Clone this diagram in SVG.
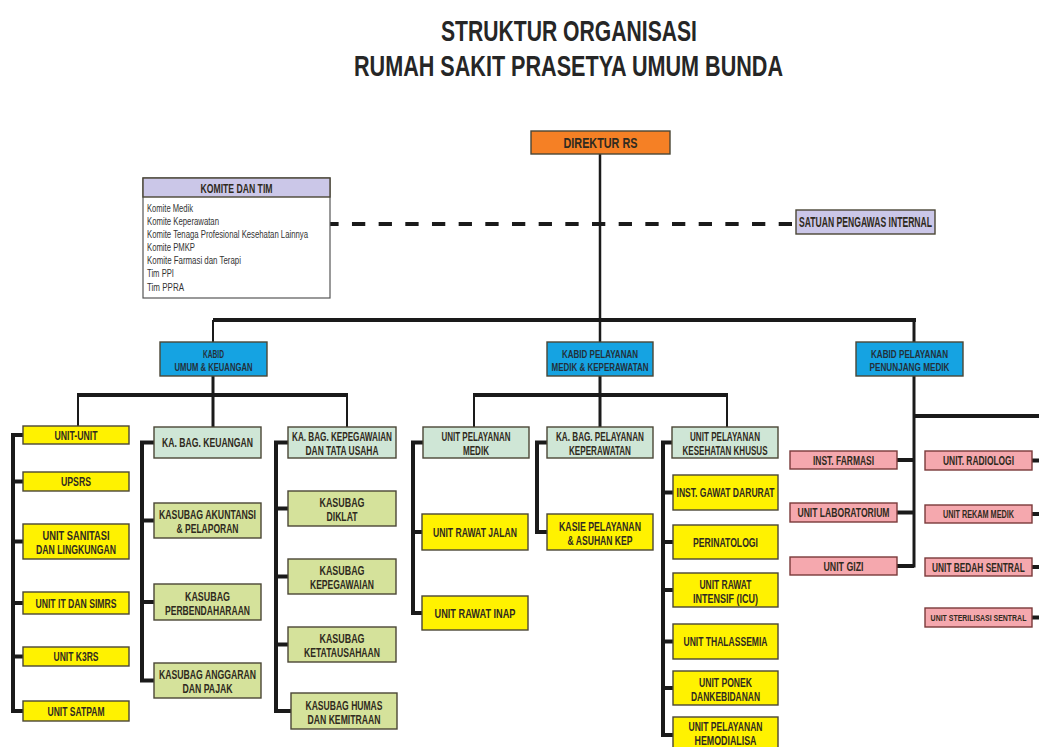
<svg xmlns="http://www.w3.org/2000/svg" width="1039" height="747" viewBox="0 0 1039 747">
<style>
.bg{fill:#ffffff}
.n{stroke:#4a4636;stroke-width:1.4}
.or{fill:#f58025}
.lv{fill:#cbc7e8}
.bl{fill:#15a3e2}
.ye{fill:#fff200}
.mi{fill:#cfe6d6}
.ol{fill:#d5e29b}
.pk{fill:#f5a8ae;stroke:#7a3a3a}
.wh{fill:#ffffff;stroke:#555555;stroke-width:1.2}
.t{font-family:"Liberation Sans",Arial,sans-serif;font-weight:bold;font-size:13px;fill:#2f2a20;text-anchor:middle}
.k{font-size:10.5px;fill:#23303a}
.s{font-size:10px}
.ti{font-family:"Liberation Sans",Arial,sans-serif;font-weight:bold;font-size:30px;fill:#262626;text-anchor:middle}
.km{font-family:"Liberation Sans",Arial,sans-serif;font-size:10px;fill:#333333}
.c{fill:none;stroke:#1a1a1a;stroke-linejoin:miter;stroke-linecap:butt}
.w4{stroke-width:4}
.w3{stroke-width:3}
.w2{stroke-width:2}
</style>
<rect class="bg" x="0" y="0" width="1039" height="747"/>
<g id="title">
<text class="ti" x="569" y="41" textLength="256" lengthAdjust="spacingAndGlyphs">STRUKTUR ORGANISASI</text>
<text class="ti" x="568.5" y="76" textLength="429" lengthAdjust="spacingAndGlyphs">RUMAH SAKIT PRASETYA UMUM BUNDA</text>
</g>
<g id="connectors">
<line class="c w4" x1="325.3" y1="224" x2="792" y2="224" stroke-dasharray="13.3 13.37"/>
<line class="c" stroke-width="2.5" x1="600" y1="154" x2="600" y2="342"/>
<line class="c w4" x1="213" y1="320" x2="916" y2="320"/>
<line class="c w2" x1="213" y1="320" x2="213" y2="342"/>
<line class="c w3" x1="914" y1="320" x2="914" y2="342"/>
<line class="c w4" x1="77" y1="395" x2="348" y2="395"/>
<line class="c w3" x1="213" y1="376" x2="213" y2="427"/>
<line class="c w2" x1="78" y1="395" x2="78" y2="426"/>
<line class="c w2" x1="347" y1="395" x2="347" y2="427"/>
<path class="c w4" d="M23 435 H13 V711 H23 M13 481.5 H23 M13 541.5 H23 M13 603 H23 M13 656.5 H23"/>
<path class="c w4" d="M154 442.5 H142 V680.5 H154 M142 520.5 H154 M142 602 H154"/>
<path class="c w4" d="M288 442.5 H276 V711 H291 M276 508.5 H288 M276 576.5 H288 M276 644.5 H288"/>
<line class="c w4" x1="473" y1="395" x2="728" y2="395"/>
<line class="c w3" x1="600" y1="376" x2="600" y2="427"/>
<line class="c w2" x1="474" y1="395" x2="474" y2="427"/>
<line class="c w2" x1="727" y1="395" x2="727" y2="427"/>
<path class="c w4" d="M423 442.5 H413 V613 H422 M413 532 H422"/>
<path class="c w4" d="M547 442.5 H537 V532 H547"/>
<path class="c w4" d="M672 442.5 H663 V735 H673 M663 492.5 H673 M663 542 H673 M663 590 H673 M663 641.5 H673 M663 688 H673"/>
<line class="c w3" x1="914" y1="376" x2="914" y2="567.5"/>
<line class="c w4" x1="914" y1="416" x2="1039" y2="416"/>
<path class="c w4" d="M897 460 H914 M897 512.5 H914 M897 566 H914"/>
<path class="c w4" d="M1032 460.5 H1039 M1032 514 H1039 M1032 567 H1039 M1032 617.5 H1039"/>
</g>
<g id="direktur">
<rect class="n or" x="531" y="131" width="139" height="23"/>
<text class="t" x="600.5" y="148" style="font-size:15px" textLength="74" lengthAdjust="spacingAndGlyphs">DIREKTUR RS</text>
</g>
<g id="satuan-pengawas">
<rect class="n lv" x="796" y="210" width="139" height="24"/>
<text class="t" x="865.5" y="227" style="font-size:14px" textLength="133" lengthAdjust="spacingAndGlyphs">SATUAN PENGAWAS INTERNAL</text>
</g>
<g id="komite">
<rect class="wh" x="143" y="178" width="187" height="120"/>
<rect class="n lv" x="143" y="178" width="187" height="19"/>
<text class="t" x="236.5" y="192.5" style="font-size:12.5px" textLength="72" lengthAdjust="spacingAndGlyphs">KOMITE DAN TIM</text>
<text class="km" x="147" y="212" textLength="46" lengthAdjust="spacingAndGlyphs">Komite Medik</text>
<text class="km" x="147" y="225" textLength="72" lengthAdjust="spacingAndGlyphs">Komite Keperawatan</text>
<text class="km" x="147" y="238" textLength="161" lengthAdjust="spacingAndGlyphs">Komite Tenaga Profesional Kesehatan Lainnya</text>
<text class="km" x="147" y="251" textLength="48" lengthAdjust="spacingAndGlyphs">Komite PMKP</text>
<text class="km" x="147" y="264" textLength="94" lengthAdjust="spacingAndGlyphs">Komite Farmasi dan Terapi</text>
<text class="km" x="147" y="277" textLength="27" lengthAdjust="spacingAndGlyphs">Tim PPI</text>
<text class="km" x="147" y="291" textLength="37" lengthAdjust="spacingAndGlyphs">Tim PPRA</text>
</g>
<g id="kabid-umum">
<rect class="n bl" x="160" y="342" width="107" height="34"/>
<text class="t k" x="213.5" y="357.5" textLength="21" lengthAdjust="spacingAndGlyphs">KABID</text>
<text class="t k" x="213.5" y="371" textLength="78" lengthAdjust="spacingAndGlyphs">UMUM &amp; KEUANGAN</text>
</g>
<g id="kabid-medik">
<rect class="n bl" x="547" y="342" width="106" height="34"/>
<text class="t k" x="600" y="357.5" textLength="76" lengthAdjust="spacingAndGlyphs">KABID PELAYANAN</text>
<text class="t k" x="600" y="371" textLength="97" lengthAdjust="spacingAndGlyphs">MEDIK &amp; KEPERAWATAN</text>
</g>
<g id="kabid-penunjang">
<rect class="n bl" x="856" y="342" width="107" height="34"/>
<text class="t k" x="909.5" y="357.5" textLength="77" lengthAdjust="spacingAndGlyphs">KABID PELAYANAN</text>
<text class="t k" x="909.5" y="371" textLength="80" lengthAdjust="spacingAndGlyphs">PENUNJANG MEDIK</text>
</g>
<g id="unit-unit">
<rect class="n ye" x="23" y="426" width="106" height="18"/>
<text class="t" x="76" y="439.5" textLength="43" lengthAdjust="spacingAndGlyphs">UNIT-UNIT</text>
</g>
<g id="upsrs">
<rect class="n ye" x="23" y="472" width="106" height="19"/>
<text class="t" x="76" y="486" textLength="30" lengthAdjust="spacingAndGlyphs">UPSRS</text>
</g>
<g id="unit-sanitasi">
<rect class="n ye" x="23" y="524" width="106" height="35"/>
<text class="t" x="76" y="540" textLength="67" lengthAdjust="spacingAndGlyphs">UNIT SANITASI</text>
<text class="t" x="76" y="554" textLength="80" lengthAdjust="spacingAndGlyphs">DAN LINGKUNGAN</text>
</g>
<g id="unit-it">
<rect class="n ye" x="23" y="592" width="106" height="22"/>
<text class="t" x="76" y="607.5" textLength="81" lengthAdjust="spacingAndGlyphs">UNIT IT DAN SIMRS</text>
</g>
<g id="unit-k3rs">
<rect class="n ye" x="23" y="647" width="106" height="19"/>
<text class="t" x="76" y="661" textLength="45" lengthAdjust="spacingAndGlyphs">UNIT K3RS</text>
</g>
<g id="unit-satpam">
<rect class="n ye" x="23" y="701" width="106" height="20"/>
<text class="t" x="76" y="715.5" textLength="57" lengthAdjust="spacingAndGlyphs">UNIT SATPAM</text>
</g>
<g id="kabag-keuangan">
<rect class="n mi" x="154" y="427" width="107" height="31"/>
<text class="t" x="207.5" y="447" textLength="91" lengthAdjust="spacingAndGlyphs">KA. BAG. KEUANGAN</text>
</g>
<g id="kasubag-akuntansi">
<rect class="n ol" x="154" y="503" width="107" height="35"/>
<text class="t" x="207.5" y="519" textLength="97" lengthAdjust="spacingAndGlyphs">KASUBAG AKUNTANSI</text>
<text class="t" x="207.5" y="533" textLength="62" lengthAdjust="spacingAndGlyphs">&amp; PELAPORAN</text>
</g>
<g id="kasubag-perbendaharaan">
<rect class="n ol" x="154" y="584" width="107" height="36"/>
<text class="t" x="207.5" y="600.5" textLength="45" lengthAdjust="spacingAndGlyphs">KASUBAG</text>
<text class="t" x="207.5" y="614.5" textLength="85" lengthAdjust="spacingAndGlyphs">PERBENDAHARAAN</text>
</g>
<g id="kasubag-anggaran">
<rect class="n ol" x="154" y="663" width="107" height="35"/>
<text class="t" x="207.5" y="679" textLength="97" lengthAdjust="spacingAndGlyphs">KASUBAG ANGGARAN</text>
<text class="t" x="207.5" y="693" textLength="50" lengthAdjust="spacingAndGlyphs">DAN PAJAK</text>
</g>
<g id="kabag-kepegawaian">
<rect class="n mi" x="288" y="427" width="108" height="31"/>
<text class="t" x="342" y="441" textLength="100" lengthAdjust="spacingAndGlyphs">KA. BAG. KEPEGAWAIAN</text>
<text class="t" x="342" y="455" textLength="73" lengthAdjust="spacingAndGlyphs">DAN TATA USAHA</text>
</g>
<g id="kasubag-diklat">
<rect class="n ol" x="288" y="491" width="108" height="35"/>
<text class="t" x="342" y="507" textLength="45" lengthAdjust="spacingAndGlyphs">KASUBAG</text>
<text class="t" x="342" y="521" textLength="31" lengthAdjust="spacingAndGlyphs">DIKLAT</text>
</g>
<g id="kasubag-kepegawaian">
<rect class="n ol" x="288" y="559" width="108" height="35"/>
<text class="t" x="342" y="575" textLength="45" lengthAdjust="spacingAndGlyphs">KASUBAG</text>
<text class="t" x="342" y="589" textLength="64" lengthAdjust="spacingAndGlyphs">KEPEGAWAIAN</text>
</g>
<g id="kasubag-ketatausahaan">
<rect class="n ol" x="288" y="627" width="108" height="35"/>
<text class="t" x="342" y="643" textLength="45" lengthAdjust="spacingAndGlyphs">KASUBAG</text>
<text class="t" x="342" y="657" textLength="76" lengthAdjust="spacingAndGlyphs">KETATAUSAHAAN</text>
</g>
<g id="kasubag-humas">
<rect class="n ol" x="291" y="693" width="106" height="36"/>
<text class="t" x="344" y="709.5" textLength="77" lengthAdjust="spacingAndGlyphs">KASUBAG HUMAS</text>
<text class="t" x="344" y="723.5" textLength="73" lengthAdjust="spacingAndGlyphs">DAN KEMITRAAN</text>
</g>
<g id="unit-pelayanan-medik">
<rect class="n mi" x="423" y="427" width="106" height="31"/>
<text class="t" x="476" y="441" textLength="69" lengthAdjust="spacingAndGlyphs">UNIT PELAYANAN</text>
<text class="t" x="476" y="455" textLength="26" lengthAdjust="spacingAndGlyphs">MEDIK</text>
</g>
<g id="unit-rawat-jalan">
<rect class="n ye" x="422" y="514" width="106" height="36"/>
<text class="t" x="475" y="536.5" textLength="84" lengthAdjust="spacingAndGlyphs">UNIT RAWAT JALAN</text>
</g>
<g id="unit-rawat-inap">
<rect class="n ye" x="422" y="596" width="106" height="34"/>
<text class="t" x="475" y="617.5" textLength="81" lengthAdjust="spacingAndGlyphs">UNIT RAWAT INAP</text>
</g>
<g id="kabag-keperawatan">
<rect class="n mi" x="547" y="427" width="106" height="31"/>
<text class="t" x="600" y="441" textLength="88" lengthAdjust="spacingAndGlyphs">KA. BAG. PELAYANAN</text>
<text class="t" x="600" y="455" textLength="62" lengthAdjust="spacingAndGlyphs">KEPERAWATAN</text>
</g>
<g id="kasie-pelayanan">
<rect class="n ye" x="547" y="514" width="106" height="36"/>
<text class="t" x="600" y="530.5" textLength="82" lengthAdjust="spacingAndGlyphs">KASIE PELAYANAN</text>
<text class="t" x="600" y="544.5" textLength="65" lengthAdjust="spacingAndGlyphs">&amp; ASUHAN KEP</text>
</g>
<g id="unit-kesehatan-khusus">
<rect class="n mi" x="672" y="427" width="106" height="31"/>
<text class="t" x="725" y="441" textLength="70" lengthAdjust="spacingAndGlyphs">UNIT PELAYANAN</text>
<text class="t" x="725" y="455" textLength="85" lengthAdjust="spacingAndGlyphs">KESEHATAN KHUSUS</text>
</g>
<g id="inst-gawat-darurat">
<rect class="n ye" x="673" y="475" width="105" height="35"/>
<text class="t" x="725.5" y="497" textLength="98" lengthAdjust="spacingAndGlyphs">INST. GAWAT DARURAT</text>
</g>
<g id="perinatologi">
<rect class="n ye" x="673" y="525" width="105" height="34"/>
<text class="t" x="725.5" y="546.5" textLength="65" lengthAdjust="spacingAndGlyphs">PERINATOLOGI</text>
</g>
<g id="unit-icu">
<rect class="n ye" x="673" y="573" width="105" height="34"/>
<text class="t" x="725.5" y="588.5" textLength="52" lengthAdjust="spacingAndGlyphs">UNIT RAWAT</text>
<text class="t" x="725.5" y="602.5" textLength="65" lengthAdjust="spacingAndGlyphs">INTENSIF (ICU)</text>
</g>
<g id="unit-thalassemia">
<rect class="n ye" x="673" y="624" width="105" height="35"/>
<text class="t" x="725.5" y="646" textLength="84" lengthAdjust="spacingAndGlyphs">UNIT THALASSEMIA</text>
</g>
<g id="unit-ponek">
<rect class="n ye" x="673" y="671" width="105" height="34"/>
<text class="t" x="725.5" y="686.5" textLength="53" lengthAdjust="spacingAndGlyphs">UNIT PONEK</text>
<text class="t" x="725.5" y="700.5" textLength="69" lengthAdjust="spacingAndGlyphs">DANKEBIDANAN</text>
</g>
<g id="unit-hemodialisa">
<rect class="n ye" x="673" y="717" width="105" height="36"/>
<text class="t" x="725.5" y="730.5" style="font-size:12px" textLength="74" lengthAdjust="spacingAndGlyphs">UNIT PELAYANAN</text>
<text class="t" x="725.5" y="744.5" style="font-size:12px" textLength="62" lengthAdjust="spacingAndGlyphs">HEMODIALISA</text>
</g>
<g id="inst-farmasi">
<rect class="n pk" x="790" y="451" width="107" height="18"/>
<text class="t" x="843.5" y="464.5" style="font-size:12.5px" textLength="61" lengthAdjust="spacingAndGlyphs">INST. FARMASI</text>
</g>
<g id="unit-laboratorium">
<rect class="n pk" x="790" y="503" width="107" height="19"/>
<text class="t" x="843.5" y="517" style="font-size:12.5px" textLength="92" lengthAdjust="spacingAndGlyphs">UNIT LABORATORIUM</text>
</g>
<g id="unit-gizi">
<rect class="n pk" x="790" y="557" width="107" height="18"/>
<text class="t" x="843.5" y="570.5" style="font-size:12.5px" textLength="40" lengthAdjust="spacingAndGlyphs">UNIT GIZI</text>
</g>
<g id="unit-radiologi">
<rect class="n pk" x="925" y="451" width="107" height="19"/>
<text class="t" x="0" y="0" style="font-size:12.5px" transform="translate(978.5 465) scale(0.673 1)">UNIT. RADIOLOGI</text>
</g>
<g id="unit-rekam-medik">
<rect class="n pk" x="925" y="505" width="107" height="18"/>
<text class="t s" x="978.5" y="517.5" textLength="71" lengthAdjust="spacingAndGlyphs">UNIT REKAM MEDIK</text>
</g>
<g id="unit-bedah-sentral">
<rect class="n pk" x="925" y="558" width="107" height="18"/>
<text class="t" x="0" y="0" style="font-size:12.5px" transform="translate(978.5 571.5) scale(0.666 1)">UNIT BEDAH SENTRAL</text>
</g>
<g id="unit-sterilisasi-sentral">
<rect class="n pk" x="925" y="608" width="107" height="19"/>
<text class="t" x="0" y="0" style="font-size:9.5px" transform="translate(978.5 621) scale(0.733 1)">UNIT STERILISASI SENTRAL</text>
</g>
</svg>
